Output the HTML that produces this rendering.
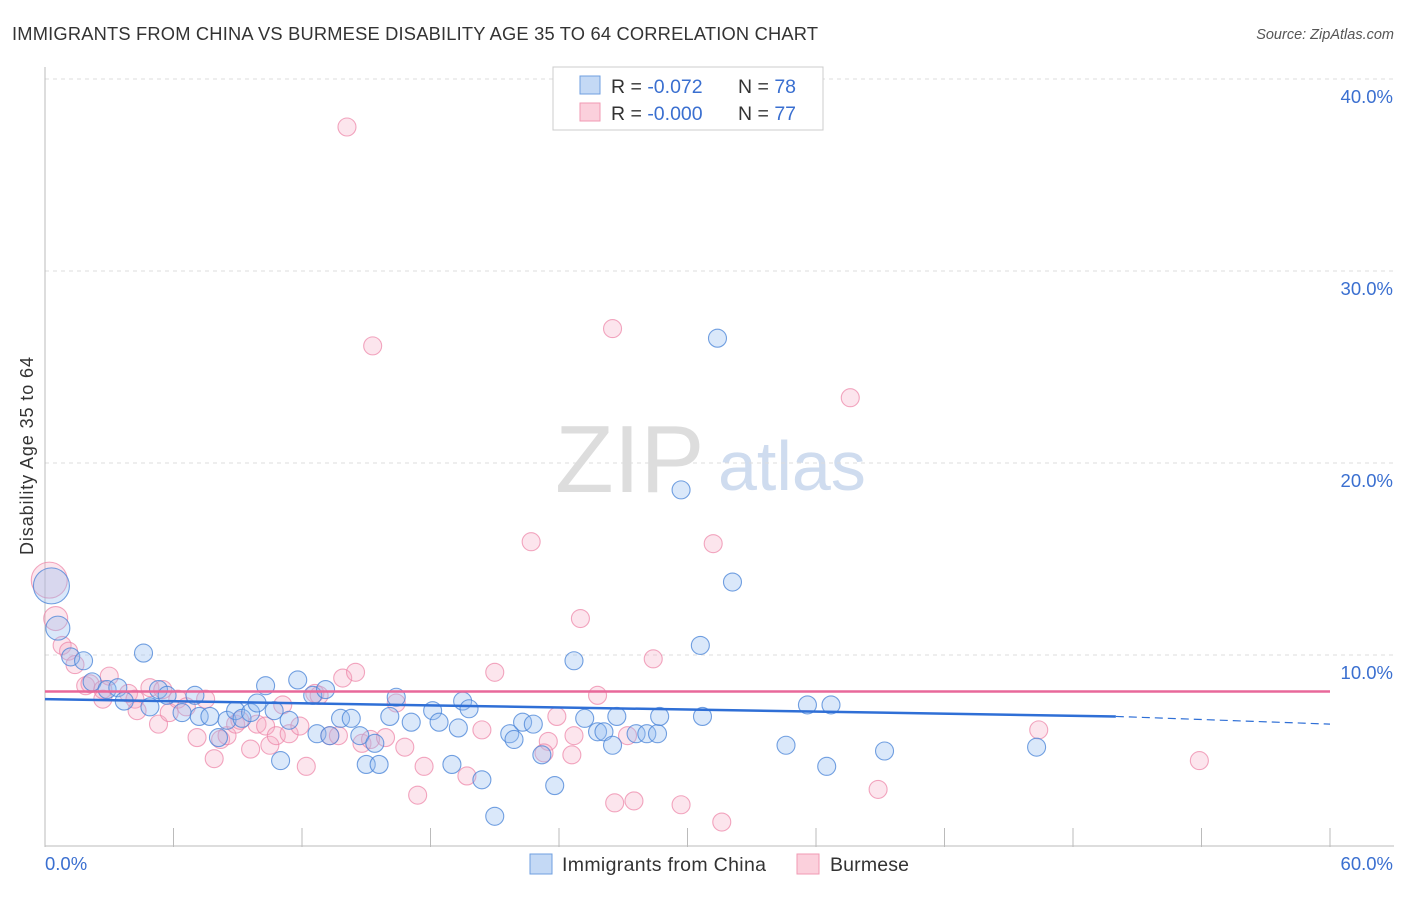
<!DOCTYPE html>
<html><head><meta charset="utf-8"><style>
body{margin:0;background:#fff;font-family:"Liberation Sans",sans-serif;}
svg text{font-family:"Liberation Sans",sans-serif;}
</style></head><body>
<svg id="chart" width="1406" height="892">
<text x="12" y="40" font-size="18.3" fill="#333" textLength="806">IMMIGRANTS FROM CHINA VS BURMESE DISABILITY AGE 35 TO 64 CORRELATION CHART</text>
<text x="1394" y="39" font-size="14.5" fill="#555" font-style="italic" text-anchor="end">Source: ZipAtlas.com</text>
<text x="555" y="492" font-size="96" fill="#ddd" font-family="Liberation Serif">ZIP</text>
<text x="718" y="490" font-size="70" fill="#cfdcef">atlas</text>
<text transform="translate(33,456) rotate(-90)" font-size="18" fill="#333" text-anchor="middle" textLength="198">Disability Age 35 to 64</text>
<g id="grid"></g><g id="axes"></g><g id="pts"></g><g id="lines"></g>
<g>
<rect x="553" y="67" width="270" height="63" fill="#fff" stroke="#ccc"/>
<rect x="580" y="76" width="20" height="18" fill="#c4d9f5" stroke="#6f9fe0"/>
<rect x="580" y="103" width="20" height="18" fill="#fbd0dc" stroke="#f09ab3"/>
<text x="611" y="93" font-size="19.5" fill="#333">R = <tspan fill="#3a6fd0">-0.072</tspan><tspan x="738">N = </tspan><tspan fill="#3a6fd0">78</tspan></text>
<text x="611" y="120" font-size="19.5" fill="#333">R = <tspan fill="#3a6fd0">-0.000</tspan><tspan x="738">N = </tspan><tspan fill="#3a6fd0">77</tspan></text>
</g>
<g>
<rect x="530" y="854" width="22" height="20" fill="#c4d9f5" stroke="#6f9fe0"/>
<text x="562" y="871" font-size="19.5" fill="#333" textLength="204">Immigrants from China</text>
<rect x="797" y="854" width="22" height="20" fill="#fbd0dc" stroke="#f09ab3"/>
<text x="830" y="871" font-size="19.5" fill="#333" textLength="79">Burmese</text>
</g>
</svg>
<script>
const xTicks=[0,60];
const yTicks=[10,20,30,40];
const chinaX=[0.3,0.6,1.2,1.8,4.6,2.2,2.9,3.4,3.7,4.9,5.3,5.7,6.4,7.0,7.2,7.7,8.1,8.5,8.9,9.2,9.6,9.9,10.3,10.7,11.0,11.4,11.8,12.5,12.7,13.1,13.3,13.8,14.3,14.7,15.0,15.4,15.6,16.1,16.4,17.1,18.1,18.4,19.0,19.3,19.5,19.8,20.4,21.0,21.7,21.9,22.3,22.8,23.2,23.8,24.7,25.2,25.8,26.1,26.5,26.7,27.6,28.1,28.6,28.7,29.7,30.6,30.7,31.4,32.1,34.6,35.6,36.5,36.7,39.2,46.3];
const chinaY=[13.6,11.4,9.9,9.7,10.1,8.6,8.2,8.3,7.6,7.3,8.2,7.9,7.0,7.9,6.8,6.8,5.7,6.6,7.1,6.7,7.0,7.5,8.4,7.1,4.5,6.6,8.7,7.9,5.9,8.2,5.8,6.7,6.7,5.8,4.3,5.4,4.3,6.8,7.8,6.5,7.1,6.5,4.3,6.2,7.6,7.2,3.5,1.6,5.9,5.6,6.5,6.4,4.8,3.2,9.7,6.7,6.0,6.0,5.3,6.8,5.9,5.9,5.9,6.8,18.6,10.5,6.8,26.5,13.8,5.3,7.4,4.2,7.4,5.0,5.2];
const burX=[0.2,0.5,0.8,1.1,1.4,1.9,2.1,2.7,3.0,2.7,3.9,4.2,4.3,4.9,5.3,5.5,5.8,6.2,6.6,7.1,7.5,7.9,8.2,8.5,8.9,9.1,9.6,9.9,10.3,10.5,10.8,11.1,11.4,11.9,12.2,12.6,12.8,13.3,13.7,13.9,14.5,14.1,14.8,15.2,15.3,15.9,16.4,16.8,17.4,17.7,19.7,20.4,21.0,22.7,23.5,23.3,23.9,24.6,24.7,25.0,25.8,26.5,26.6,27.2,27.5,28.4,29.7,31.2,31.6,37.6,38.9,46.4,53.9];
const burY=[13.9,11.9,10.5,10.2,9.5,8.4,8.5,8.2,8.9,7.7,8.0,7.7,7.1,8.3,6.4,8.2,7.0,7.7,7.3,5.7,7.7,4.6,5.6,5.8,6.4,6.6,5.1,6.4,6.3,5.3,5.8,7.4,5.9,6.3,4.2,8.0,7.9,5.8,5.8,8.8,9.1,37.5,5.4,5.6,26.1,5.7,7.5,5.2,2.7,4.2,3.7,6.1,9.1,15.9,5.5,4.9,6.8,4.8,5.8,11.9,7.9,27.0,2.3,5.8,2.4,9.8,2.2,15.8,1.3,23.4,3.0,6.1,4.5];
const chinaTrend=[7.7,6.8,6.4]; // at x=0, 50, 60
const burTrend=[8.1,8.1];
const X0=45,X1=1330,Y0=847,PX=19.2;
const sx=v=>X0+(X1-X0)*v/60, sy=v=>Y0-v*PX;
const NS='http://www.w3.org/2000/svg';
function mk(tag,parent,attrs){const e=document.createElementNS(NS,tag);for(const k in attrs)e.setAttribute(k,attrs[k]);parent.appendChild(e);return e;}
const grid=document.getElementById('grid'),axes=document.getElementById('axes'),pts=document.getElementById('pts'),lines=document.getElementById('lines');
yTicks.forEach(t=>{
 const l=mk('line',grid,{x1:X0,x2:1394,y1:sy(t),y2:sy(t),stroke:'#ddd','stroke-dasharray':'4,4'});
 
 
 const tx=mk('text',axes,{x:1393,y:sy(t)+24,'font-size':18.5,fill:'#3a6fd0','text-anchor':'end'});
 tx.textContent=t.toFixed(1)+'%';
 
 
});
const ax=mk('line',axes,{x1:X0,x2:1394,y1:Y0-1,y2:Y0-1,stroke:'#bbb'});


const ay=mk('line',axes,{x1:X0,x2:X0,y1:67,y2:Y0,stroke:'#bbb'});


for(let i=1;i<=10;i++){const x=X0+(X1-X0)*i/10;const tk=mk('line',axes,{x1:x,x2:x,y1:828,y2:Y0,stroke:'#bbb'});
 
 }
xTicks.forEach((t,i)=>{const tx=mk('text',axes,{x:i?1393:45,y:870,'font-size':18.5,fill:'#3a6fd0','text-anchor':i?'end':'start'});
 tx.textContent=t.toFixed(1)+'%';
 
 });
function series(xs,ys,fill,stroke,name){xs.forEach((v,i)=>{const r=i==0?18:(i==1?12:9);
 const c=mk('circle',pts,{cx:sx(v),cy:sy(ys[i]),r:r,fill:fill,stroke:stroke,'stroke-width':1.1});
 
 });}
series(burX,burY,'rgba(246,170,195,0.3)','rgba(236,130,165,0.7)','burmese-point');
series(chinaX,chinaY,'rgba(150,190,240,0.35)','rgba(70,130,215,0.75)','china-point');
const l1=mk('line',lines,{x1:sx(0),y1:sy(chinaTrend[0]),x2:sx(50),y2:sy(chinaTrend[1]),stroke:'#2f6fd6','stroke-width':2.5});


const l2=mk('line',lines,{x1:sx(50),y1:sy(chinaTrend[1]),x2:sx(60),y2:sy(chinaTrend[2]),stroke:'#2f6fd6','stroke-width':1.2,'stroke-dasharray':'8,5'});


const l3=mk('line',lines,{x1:sx(0),y1:sy(burTrend[0]),x2:sx(60),y2:sy(burTrend[1]),stroke:'#e8689a','stroke-width':2.5});


</script>
</body></html>
